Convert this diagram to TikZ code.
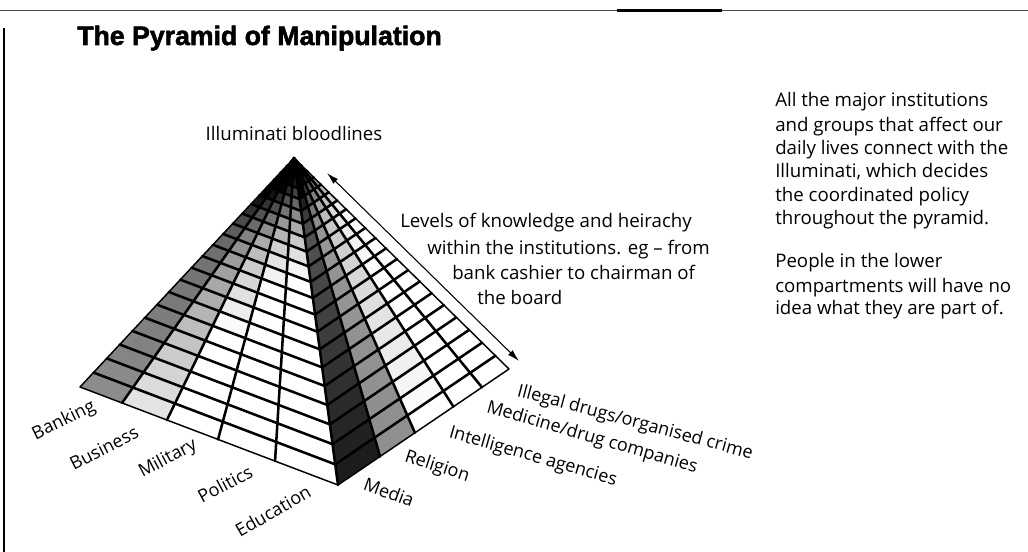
\documentclass[tikz,border=0pt]{standalone}
\usepackage{fontspec}
\usepackage{graphicx}
\setmainfont{Open Sans}
\newfontfamily\headfont{Liberation Sans}[BoldFeatures={FakeBold=2}]
\usetikzlibrary{calc,arrows.meta}
\begin{document}
\begin{tikzpicture}[x=0.75pt,y=-0.75pt,
  txt/.style={font=\fontsize{14pt}{17pt}\selectfont, inner sep=0pt},
  lbl/.style={font=\fontsize{13.5pt}{16pt}\selectfont, inner sep=0pt},
  gridline/.style={line width=1.9pt, line join=round, line cap=round},
  edgeline/.style={line width=1.1pt, line join=round},
  rule/.style={line width=0.9pt, black!70}]
\useasboundingbox (0,0) rectangle (1028,552);
% frame rules
\coordinate (r1) at (0,10.5); \coordinate (r2) at (1028,10.5);
\draw[rule] (r1) -- (r2);
\coordinate (r3) at (617,10.5); \coordinate (r4) at (722,10.5);
\draw[line width=1.8pt] (r3) -- (r4);
\coordinate (r5) at (4,28); \coordinate (r6) at (4,552);
\draw[line width=1pt] (r5) -- (r6);
% title
\node[anchor=base west, inner sep=0pt] (title) at (77,45) {\headfont\bfseries\fontsize{20pt}{24pt}\selectfont The Pyramid of Manipulation};
% pyramid corners
\coordinate (A) at (294,158);
\coordinate (L) at (80,387);
\coordinate (F) at (338,485);
\coordinate (R) at (509,369);
\def\NL{22}
\def\PW{1.4}
% left face cells
\foreach \c/\ua/\ub/\ka/\kb in {0/0/0.163/65/20, 1/0.163/0.337/60/50, 2/0.337/0.535/55/85, 3/0.535/0.756/40/85, 4/0.756/1/30/75}{
  \foreach \j in {1,...,22}{
    \pgfmathsetmacro\sa{((\j-1)/\NL)^\PW}
    \pgfmathsetmacro\sb{(\j/\NL)^\PW}
    \pgfmathsetmacro\sm{(\sa+\sb)/2}
    \pgfmathsetmacro\m{max(0,1-\sm/0.4)}
    \pgfmathtruncatemacro\d{min(100,max(0,\ka-\kb*\sm)+100*\m*\m)}
    \fill[black!\d] ($(A)!\sa!($(L)!\ua!(F)$)$) -- ($(A)!\sa!($(L)!\ub!(F)$)$) -- ($(A)!\sb!($(L)!\ub!(F)$)$) -- ($(A)!\sb!($(L)!\ua!(F)$)$) -- cycle;
  }
}
% right face cells
\foreach \c/\ua/\ub/\ka/\kb in {0/0/0.246/60/-30, 1/0.246/0.450/40/-5, 2/0.450/0.675/30/30, 3/0.675/0.842/20/40, 4/0.842/1/10/30}{
  \foreach \j in {1,...,22}{
    \pgfmathsetmacro\sa{((\j-1)/\NL)^\PW}
    \pgfmathsetmacro\sb{(\j/\NL)^\PW}
    \pgfmathsetmacro\sm{(\sa+\sb)/2}
    \pgfmathsetmacro\m{max(0,1-\sm/0.28)}
    \pgfmathtruncatemacro\d{min(100,max(0,\ka-\kb*\sm)+100*\m*\m)}
    \fill[black!\d] ($(A)!\sa!($(F)!\ua!(R)$)$) -- ($(A)!\sa!($(F)!\ub!(R)$)$) -- ($(A)!\sb!($(F)!\ub!(R)$)$) -- ($(A)!\sb!($(F)!\ua!(R)$)$) -- cycle;
  }
}
% level lines
\foreach \j in {1,...,21}{
  \pgfmathsetmacro\s{(\j/\NL)^\PW}
  \draw[gridline] ($(A)!\s!(L)$) -- ($(A)!\s!(F)$) -- ($(A)!\s!(R)$);
}
% radial lines
\foreach \u in {0.163,0.337,0.535,0.756}{
  \draw[gridline] (A) -- ($(L)!\u!(F)$);
}
\foreach \u in {0.246,0.450,0.675,0.842}{
  \draw[gridline] (A) -- ($(F)!\u!(R)$);
}
\draw[gridline] (A) -- (F);
\draw[edgeline] (A) -- (L) -- (F) -- (R) -- cycle;
% apex label
\node[txt, anchor=base] (apexlbl) at (294,141) {Illuminati bloodlines};
% arrow
\coordinate (arrA) at (327,173);
\coordinate (arrB) at (519,361);
\draw[line width=0.8pt, {Latex[length=9pt,width=5pt]}-{Latex[length=9pt,width=5pt]}] (arrA) -- (arrB);
% levels text
\node[txt, anchor=base west] (lev1) at (400,228) {Levels of knowledge and heirachy};
\node[txt, anchor=base west] (lev2) at (427,255) {within the institutions. eg -- from};
\node[txt, anchor=base west] (lev3) at (452,280) {bank cashier to chairman of};
\node[txt, anchor=base west] (lev4) at (477,305) {the board};
% right paragraph
\node[txt, anchor=base west] (p1) at (775,107) {All the major institutions};
\node[txt, anchor=base west] (p2) at (775,132) {and groups that affect our};
\node[txt, anchor=base west] (p3) at (775,155) {daily lives connect with the};
\node[txt, anchor=base west] (p4) at (775,178) {Illuminati, which decides};
\node[txt, anchor=base west] (p5) at (775,202) {the coordinated policy};
\node[txt, anchor=base west] (p6) at (775,225) {throughout the pyramid.};
\node[txt, anchor=base west] (q1) at (775,268) {People in the lower};
\node[txt, anchor=base west] (q2) at (775,292) {compartments will have no};
\node[txt, anchor=base west] (q3) at (775,315) {idea what they are part of.};
% left face labels
\node[lbl, rotate=26] (banking) at (64,421) {Banking};
\node[lbl, rotate=27] (business) at (104,448) {Business};
\node[lbl, rotate=28] (military) at (168,459) {Military};
\node[lbl, rotate=28] (politics) at (225,484) {Politics};
\node[lbl, rotate=30] (education) at (273,511) {Education};
% right face labels
\node[lbl, rotate=-20] (media) at (389,492) {Media};
\node[lbl, rotate=-18] (religion) at (437,467) {Religion};
\node[lbl, rotate=-16] (intel) at (533,457) {Intelligence agencies};
\node[lbl, rotate=-16] (medicine) at (592,438) {Medicine/drug companies};
\node[lbl, rotate=-15] (illegal) at (635,423) {Illegal drugs/organised crime};
\end{tikzpicture}
\end{document}
